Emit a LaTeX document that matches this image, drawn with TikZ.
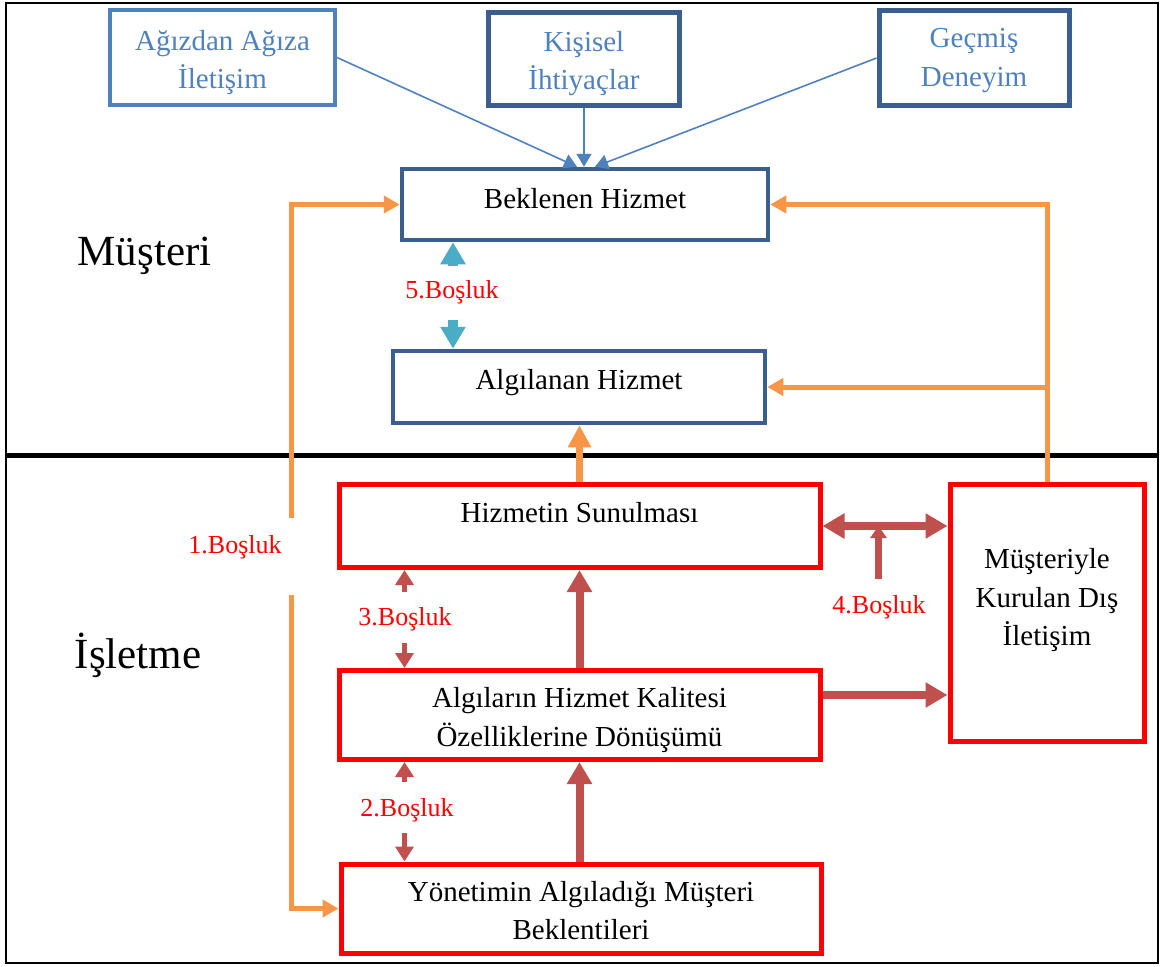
\documentclass[tikz,border=0pt]{standalone}
\usepackage{fontspec}
\setmainfont{Liberation Serif}
\usetikzlibrary{arrows.meta}

\definecolor{lblue}{HTML}{4F81BD}
\definecolor{dblue}{HTML}{3A5F8E}
\definecolor{bred}{HTML}{FF0000}
\definecolor{ared}{HTML}{C0504D}
\definecolor{aorange}{HTML}{F79646}
\definecolor{acyan}{HTML}{4BACC6}

\begin{document}
\begin{tikzpicture}[x=1pt,y=-1pt,
  box/.style={draw, rectangle, inner sep=0pt, fill=white},
  lightbox/.style={box, draw=lblue, line width=4pt},
  darkbox/.style={box, draw=dblue, line width=5pt},
  redbox/.style={box, draw=bred, line width=5pt},
  bt/.style={font=\fontsize{29}{38}\selectfont, inner sep=0pt, anchor=base},
  bluet/.style={bt, text=lblue},
  bigt/.style={font=\fontsize{43}{50}\selectfont, inner sep=0pt, anchor=base},
  gapt/.style={font=\fontsize{26}{30}\selectfont, text=bred, inner sep=0pt, anchor=base},
  gapbox/.style={fill=white, inner sep=0pt},
  thinblue/.style={draw=lblue, line width=1.6pt, -{Triangle[length=13pt,width=15pt]}},
  orangeline/.style={draw=aorange, line width=5pt},
  otip/.tip={Triangle[length=16pt,width=17pt]},
  cyanarrow/.style={draw=acyan, line width=10pt, -{Triangle[length=22pt,width=24pt]}},
  redthin/.style={draw=ared, line width=5.5pt, {Triangle[length=15pt,width=18pt]}-{Triangle[length=15pt,width=18pt]}},
  redthick/.style={draw=ared, line width=8pt, -{Triangle[length=22pt,width=24pt]}},
]
\useasboundingbox (0,0) rectangle (1168,967);

% outer frame and the line between the two parts
\draw[line width=2.5pt, black] (6,3) rectangle (1158,963);
\draw[line width=5pt, black] (6,455) -- (1158,455);

% side titles
\node[bigt] (musteri) at (144.5,265) {Müşteri};
\node[bigt] (isletme) at (138,668) {İşletme};

% customer side boxes
\node[lightbox, minimum width=225pt, minimum height=95pt] (agiz) at (222.5,57.5) {};
\node[bluet] (agiz1) at (222.5,50) {Ağızdan Ağıza};
\node[bluet] (agiz2) at (222.5,88) {İletişim};

\node[darkbox, minimum width=191pt, minimum height=93pt] (kis) at (584,59) {};
\node[bluet] (kis1) at (584,51) {Kişisel};
\node[bluet] (kis2) at (584,89) {İhtiyaçlar};

\node[darkbox, minimum width=190pt, minimum height=95pt] (gec) at (974,58) {};
\node[bluet] (gec1) at (974,47) {Geçmiş};
\node[bluet] (gec2) at (974,86) {Deneyim};

\node[darkbox, line width=4.5pt, minimum width=366pt, minimum height=71pt] (bek) at (585,204.5) {};
\node[bt] (bek1) at (585,208) {Beklenen Hizmet};

\node[darkbox, line width=4.5pt, minimum width=372pt, minimum height=72pt] (alg) at (579,387) {};
\node[bt] (alg1) at (579,389) {Algılanan Hizmet};

% company side boxes
\node[redbox, minimum width=481pt, minimum height=83pt] (hiz) at (579.5,526) {};
\node[bt] (hiz1) at (579.5,522) {Hizmetin Sunulması};

\node[redbox, minimum width=481pt, minimum height=89pt] (donu) at (579.5,715) {};
\node[bt] (donu1) at (579.5,707) {Algıların Hizmet Kalitesi};
\node[bt] (donu2) at (579.5,746) {Özelliklerine Dönüşümü};

\node[redbox, minimum width=480pt, minimum height=89pt] (yon) at (581,908.5) {};
\node[bt] (yon1) at (581,901) {Yönetimin Algıladığı Müşteri};
\node[bt] (yon2) at (581,939) {Beklentileri};

\node[redbox, minimum width=194pt, minimum height=257pt] (mus) at (1047,612.5) {};
\node[bt] (mus1) at (1047,568) {Müşteriyle};
\node[bt] (mus2) at (1047,607) {Kurulan Dış};
\node[bt] (mus3) at (1047,645) {İletişim};

% influences on the expected service
\draw[thinblue] (agiz.east) -- ([xshift=-8pt]bek.north);
\draw[thinblue] (kis.south) -- (kis.south |- bek.north);
\draw[thinblue] (gec.west) -- ([xshift=10pt]bek.north);

% orange feedback lines
\draw[orangeline, otip-otip] (yon.west) -| ([xshift=-108pt]bek.west) -- (bek.west);
\draw[orangeline, -otip] (mus.north) |- (bek.east);
\draw[orangeline, -otip] (mus.north |- alg.east) -- (alg.east);
\draw[draw=aorange, line width=6.5pt, -{Triangle[length=22pt,width=22pt]}] (hiz.north) -- (hiz.north |- alg.south);

% gap 5 between expected and perceived service
\draw[cyanarrow] ([xshift=-132pt]bek.south) ++(0,24) -- ([xshift=-132pt]bek.south);
\draw[cyanarrow] ([xshift=-126pt]alg.north) ++(0,-29) -- ([xshift=-126pt]alg.north);

% red flows inside the company
\draw[redthin] ([xshift=-175pt]hiz.south) -- ([xshift=-175pt]hiz.south |- donu.north);
\draw[redthin] ([xshift=-175pt]donu.south) -- ([xshift=-175pt]donu.south |- yon.north);
\draw[redthick] (donu.north) -- (donu.north |- hiz.south);
\draw[redthick] (yon.north -| donu.south) -- (donu.south);
\draw[draw=ared, line width=8pt, {Triangle[length=22pt,width=24pt]}-{Triangle[length=22pt,width=24pt]}]
  (hiz.east |- 0,526) coordinate (h4) -- (mus.west |- h4);
\draw[redthick] (donu.east |- 0,695) coordinate (d4) -- (mus.west |- d4);

% gap labels
\node[gapbox, minimum width=129pt, minimum height=77pt] (g1) at (230.5,556.5) {};
\node[gapt] (g1t) at (235,553) {1.Boşluk};
\node[gapbox, minimum width=183pt, minimum height=51pt] (g3) at (433.5,617.5) {};
\node[gapt] (g3t) at (405,625) {3.Boşluk};
\node[gapbox, minimum width=187pt, minimum height=51pt] (g2) at (433.5,807.5) {};
\node[gapt] (g2t) at (407,816) {2.Boşluk};
\node[gapbox, minimum width=135pt, minimum height=49pt] (g4) at (878.5,603.5) {};
\node[gapt] (g4t) at (879,613) {4.Boşluk};
\node[gapt] (g5t) at (452,298) {5.Boşluk};

\draw[draw=ared, line width=7pt, -{Triangle[length=12pt,width=16pt]}] (g4.north) -- (g4.north |- h4);
\end{tikzpicture}
\end{document}
